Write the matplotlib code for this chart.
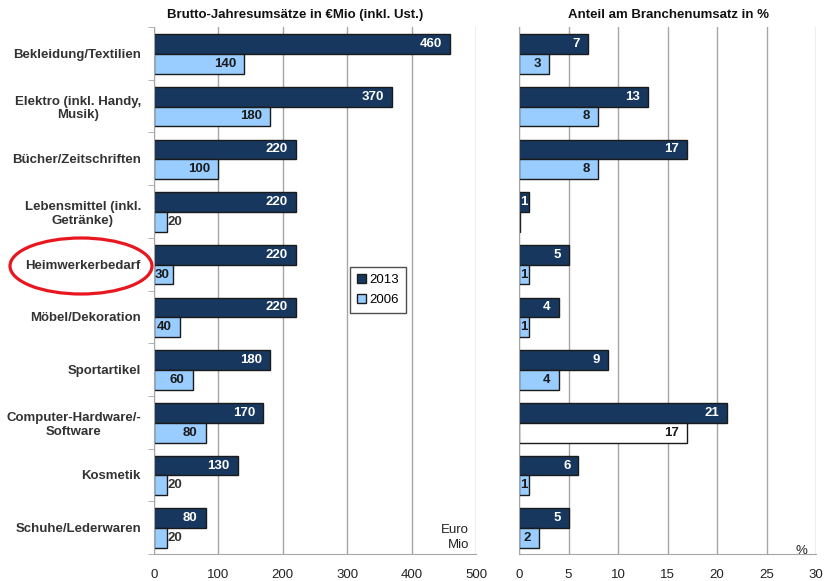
import matplotlib.pyplot as plt
import numpy as np
from matplotlib.patches import Patch, Ellipse

plt.rcParams['font.family'] = ['Liberation Sans', 'DejaVu Sans']

categories = ['Bekleidung/Textilien', 'Elektro (inkl. Handy,\nMusik)', 'Bücher/Zeitschriften',
              'Lebensmittel (inkl.\nGetränke)', 'Heimwerkerbedarf', 'Möbel/Dekoration',
              'Sportartikel', 'Computer-Hardware/-\nSoftware', 'Kosmetik', 'Schuhe/Lederwaren']
umsatz_2013 = [460, 370, 220, 220, 220, 220, 180, 170, 130, 80]
umsatz_2006 = [140, 180, 100, 20, 30, 40, 60, 80, 20, 20]
anteil_2013 = [7, 13, 17, 1, 5, 4, 9, 21, 6, 5]
anteil_2006 = [3, 8, 8, 0.1, 1, 1, 4, 17, 1, 2]
years = ['2013', '2006']

DARK = '#17375e'
LIGHT = '#99ccff'
EDGE = '#1a1a1a'
GRID = '#a6a6a6'
TXT = '#333333'
FS = 9.5

fig = plt.figure(figsize=(8.25, 5.81), dpi=100)
ax1 = fig.add_axes([154 / 825, 27 / 581, 322 / 825, 527 / 581])
ax2 = fig.add_axes([519 / 825, 27 / 581, 297 / 825, 527 / 581])

y = np.arange(len(categories))
h = 0.375
y_dark = y + 0.135
y_light = y + 0.51


def add_labels(ax, vals, ypos, xmax, width_px, on_dark, outside_ok):
    scale = width_px / xmax
    for v, yy in zip(vals, ypos):
        if v < 0.5:
            continue
        s = '%d' % v
        lw = len(s) * 7.3
        bar_px = v * scale
        pad = min(8, bar_px - lw - 1)
        col = 'white' if on_dark else '#1a1a1a'
        if pad >= 1:
            x, off, ha = v, -pad, 'right'
        elif outside_ok:
            x, off, ha, col = v, 1, 'left', '#333333'
        else:
            x, off, ha = 0, 1, 'left'
        ax.annotate(s, (x, yy + h / 2), xytext=(off * 0.72, 0), textcoords='offset points',
                    ha=ha, va='center', fontsize=FS, fontweight='bold', color=col)


def style_axis(ax, xmax, step):
    ax.set_xlim(0, xmax)
    ax.set_ylim(len(categories), 0)
    ax.set_xticks(np.arange(0, xmax + 1, step))
    ax.grid(axis='x', color=GRID, lw=1)
    ax.set_axisbelow(True)
    for sp in ['top', 'right']:
        ax.spines[sp].set_visible(False)
    for sp in ['left', 'bottom']:
        ax.spines[sp].set_color(GRID)
    ax.tick_params(axis='x', length=0, pad=10.5, labelsize=FS, colors='#222222')


# Umsatz in Mio Euro
ax1.barh(y_dark, umsatz_2013, height=h, align='edge', color=DARK, edgecolor=EDGE, lw=1)
ax1.barh(y_light, umsatz_2006, height=h, align='edge', color=LIGHT, edgecolor=EDGE, lw=1)
style_axis(ax1, 500, 100)
ax1.set_yticks(y + 0.5)
ax1.set_yticklabels(categories, fontsize=FS, fontweight='bold', color=TXT, ha='right',
                    multialignment='center')
ax1.set_yticks(np.arange(len(categories) + 1), minor=True)
ax1.tick_params(axis='y', which='major', length=0, pad=9.4)
ax1.tick_params(axis='y', which='minor', length=4, color=GRID)
add_labels(ax1, umsatz_2013, y_dark, 500, 322, True, True)
add_labels(ax1, umsatz_2006, y_light, 500, 322, False, True)
ax1.text(0.978, 0.005, 'Euro\nMio', transform=ax1.transAxes, ha='right', va='bottom',
         fontsize=FS, color='#222222', multialignment='right', linespacing=1.35)

# Anteil am Branchenumsatz
fc_2006 = [LIGHT] * len(categories)
fc_2006[7] = 'white'
ax2.barh(y_dark, anteil_2013, height=h, align='edge', color=DARK, edgecolor=EDGE, lw=1)
ax2.barh(y_light, anteil_2006, height=h, align='edge', color=fc_2006, edgecolor=EDGE, lw=1)
style_axis(ax2, 30, 5)
ax2.set_yticks([])
add_labels(ax2, anteil_2013, y_dark, 30, 297, True, False)
add_labels(ax2, anteil_2006, y_light, 30, 297, False, False)
ax2.text(0.97, -0.005, '%', transform=ax2.transAxes, ha='right', va='bottom',
         fontsize=FS, color='#222222')

fig.text(295 / 825, 1 - 15 / 581, 'Brutto-Jahresumsätze in €Mio (inkl. Ust.)', ha='center',
         va='center', fontsize=FS, fontweight='bold', color='#111111')
fig.text(668 / 825, 1 - 15 / 581, 'Anteil am Branchenumsatz in %', ha='center',
         va='center', fontsize=FS, fontweight='bold', color='#111111')

handles = [Patch(facecolor=DARK, edgecolor=EDGE), Patch(facecolor=LIGHT, edgecolor=EDGE)]
leg = fig.legend(handles, years, loc='upper left', bbox_to_anchor=(350 / 825, 1 - 267 / 581),
                 fontsize=FS, frameon=True, fancybox=False, handlelength=0.7, handleheight=0.7,
                 handletextpad=0.3, borderpad=0.5, labelspacing=0.6, borderaxespad=0)
leg.get_frame().set_edgecolor('#222222')
leg.get_frame().set_linewidth(1)

fig.add_artist(Ellipse((81 / 825, 1 - 266 / 581), 142 / 825, 56 / 581, transform=fig.transFigure,
                       fill=False, edgecolor='#e8171f', lw=2.3))

fig.savefig('out.png', dpi=100)
